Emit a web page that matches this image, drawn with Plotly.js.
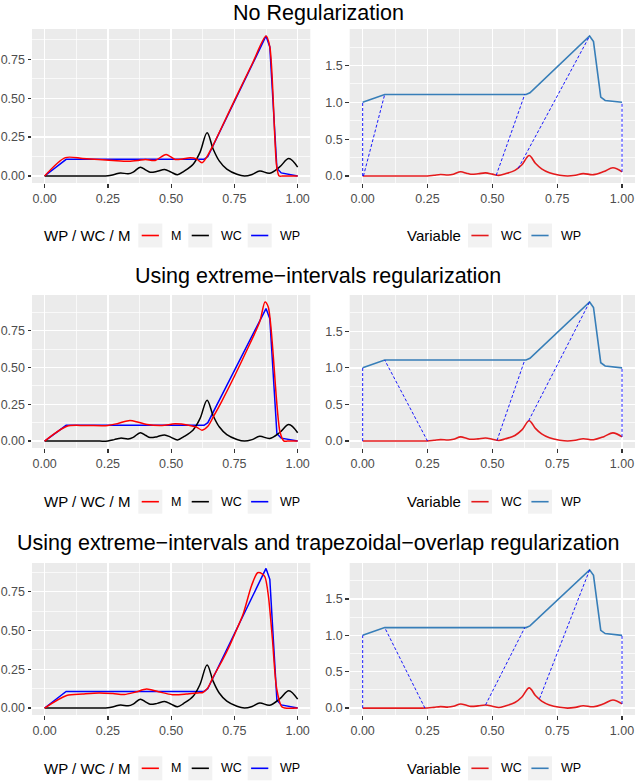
<!DOCTYPE html>
<html>
<head>
<meta charset="utf-8">
<script src="https://cdn.plot.ly/plotly-3.0.1.min.js"></script>
<style>
  html, body { margin: 0; padding: 0; background: #ffffff; }
  #chart { width: 636px; height: 782px; }
</style>
</head>
<body>
<div id="chart"></div>
<script>
// ---- values ----

// WC curve (same in every panel)
var wcX = [0, 0.1, 0.2, 0.25, 0.275, 0.30, 0.33, 0.35, 0.378, 0.40, 0.417, 0.445, 0.474, 0.50, 0.525,
           0.55, 0.587, 0.614, 0.642, 0.666, 0.69, 0.72, 0.76, 0.79, 0.82, 0.85, 0.89, 0.93, 0.965, 1.0];
var wcY = [0, 0, 0, 0.001, 0.01, 0.02, 0.014, 0.025, 0.057, 0.038, 0.024, 0.03, 0.042, 0.025, 0.008,
           0.03, 0.076, 0.152, 0.278, 0.173, 0.097, 0.044, 0.011, 0.0, 0.01, 0.032, 0.018, 0.06, 0.112, 0.057];

// WP curve, left panels and right panels
var wpX = [0, 0.085, 0.63, 0.645, 0.875, 0.89, 0.918, 0.935, 1.0];
var wpY = [0, 0.107, 0.107, 0.125, 0.9, 0.83, 0.05, 0.02, 0];
var wpRightY = [1.0, 1.107, 1.107, 1.13, 1.9, 1.825, 1.07, 1.025, 1.0];

// M curve, one per regularization
var m1X = [0, 0.082, 0.15, 0.213, 0.27, 0.332, 0.37, 0.398, 0.437, 0.48, 0.516, 0.545, 0.575, 0.6, 0.622,
           0.64, 0.661, 0.75, 0.82, 0.875, 0.89, 0.917, 0.927, 0.94, 1.0];
var m1Y = [0, 0.118, 0.113, 0.106, 0.1, 0.095, 0.1, 0.106, 0.1, 0.139, 0.106, 0.11, 0.117, 0.11, 0.085,
           0.12, 0.182, 0.485, 0.72, 0.9, 0.83, 0.065, 0, 0, 0];
var m2X = [0, 0.088, 0.16, 0.25, 0.29, 0.337, 0.37, 0.404, 0.464, 0.516, 0.569, 0.6, 0.622, 0.645, 0.668,
           0.7, 0.75, 0.8, 0.85, 0.871, 0.884, 0.93, 0.946, 0.96, 1.0];
var m2Y = [0, 0.101, 0.106, 0.106, 0.12, 0.14, 0.128, 0.113, 0.106, 0.117, 0.108, 0.095, 0.074, 0.1, 0.169,
           0.27, 0.44, 0.62, 0.81, 0.945, 0.91, 0.063, 0, 0, 0];
var m3X = [0, 0.087, 0.15, 0.215, 0.27, 0.315, 0.36, 0.403, 0.45, 0.505, 0.56, 0.612, 0.625, 0.645, 0.666,
           0.7, 0.732, 0.76, 0.785, 0.818, 0.842, 0.86, 0.871, 0.884, 0.9, 0.917, 0.937, 0.95, 1.0];
var m3Y = [0, 0.081, 0.09, 0.097, 0.093, 0.087, 0.103, 0.122, 0.105, 0.086, 0.09, 0.099, 0.1, 0.13, 0.2,
           0.3, 0.405, 0.51, 0.608, 0.79, 0.872, 0.865, 0.845, 0.727, 0.45, 0.126, 0.008, 0, 0];

// matching lines (right panels): from a point on WC to a point on WP
var seg1FromX = [0, 0.003, 0.515, 0.6, 1.0];
var seg1FromY = [0, 0, 0.01, 0.105, 0.057];
var seg2FromX = [0, 0.25, 0.518, 0.64, 1.0];
var seg2FromY = [0, 0, 0.008, 0.278, 0.057];
var seg3FromX = [0, 0.24, 0.474, 0.682, 1.0];
var seg3FromY = [0, 0, 0.045, 0.13, 0.057];
var segToX = [0, 0.085, 0.625, 0.875, 1.0];
var segToY = [1.0, 1.107, 1.107, 1.9, 1.0];

var titles = ['No Regularization',
              'Using extreme\u2212intervals regularization',
              'Using extreme\u2212intervals and trapezoidal\u2212overlap regularization'];
var leftLabels = ['M', 'WC', 'WP'];
var leftColors = ['#FF0000', '#000000', '#0000FF'];
var rightLabels = ['WC', 'WP'];
var rightColors = ['#E41A1C', '#377EB8'];

// ---- layout helpers ----
var W = 636, H = 782;
var FONT = '"Liberation Sans", Arial, Helvetica, sans-serif';
function px(v) { return v / W; }
function py(v) { return 1 - v / H; }

var colBox = [[32, 310.3], [349.7, 635]];
var rowBox = [[29, 183], [295, 448], [563, 715]];
var leftYRange = [[-0.045, 0.945], [-0.047, 0.992], [-0.045, 0.935]];
var rightYRange = [-0.095, 1.995];
var titleY = [12.5, 275.5, 543];
var legendY = [235.5, 501.7, 768.3];
var leftKeyX = [138.3, 188.3, 247.7];
var rightKeyX = [468, 528];

var mX = [m1X, m2X, m3X], mY = [m1Y, m2Y, m3Y];
var segFromX = [seg1FromX, seg2FromX, seg3FromX];
var segFromY = [seg1FromY, seg2FromY, seg3FromY];

function axis(domain, range, dtick, minorDtick, fmt) {
  return {
    domain: domain, range: range, fixedrange: true,
    tick0: 0, dtick: dtick, tickformat: fmt,
    showgrid: true, gridcolor: '#FFFFFF', gridwidth: 1.4,
    zeroline: false, showline: false,
    ticks: 'outside', ticklen: 3.5, tickwidth: 1.3, tickcolor: '#333333',
    tickfont: {family: FONT, size: 12.5, color: '#4D4D4D'},
    minor: {tick0: 0, dtick: minorDtick, showgrid: true, gridcolor: '#FFFFFF', gridwidth: 0.7, ticks: ''}
  };
}

var traces = [];
var layout = {
  width: W, height: H, autosize: false,
  margin: {l: 0, r: 0, t: 0, b: 0},
  paper_bgcolor: '#FFFFFF', plot_bgcolor: '#EBEBEB',
  showlegend: false,
  font: {family: FONT},
  shapes: [], annotations: []
};

for (var r = 0; r < 3; r++) {
  var pl = 2 * r + 1, pr = 2 * r + 2;
  var yDom = [py(rowBox[r][1]), py(rowBox[r][0])];
  layout['xaxis' + pl] = axis([px(colBox[0][0]), px(colBox[0][1])], [-0.05, 1.05], 0.25, 0.125, '.2f');
  layout['yaxis' + pl] = axis(yDom, leftYRange[r], 0.25, 0.125, '.2f');
  layout['xaxis' + pr] = axis([px(colBox[1][0]), px(colBox[1][1])], [-0.05, 1.05], 0.25, 0.125, '.2f');
  layout['yaxis' + pr] = axis(yDom, rightYRange, 0.5, 0.25, '.1f');
  layout['xaxis' + pl].anchor = 'y' + pl;
  layout['yaxis' + pl].anchor = 'x' + pl;
  layout['xaxis' + pr].anchor = 'y' + pr;
  layout['yaxis' + pr].anchor = 'x' + pr;

  var xl = 'x' + pl, yl = 'y' + pl, xr = 'x' + pr, yr = 'y' + pr;

  // left panel: WP, WC, M
  traces.push({x: wpX, y: wpY, xaxis: xl, yaxis: yl, mode: 'lines', name: 'WP',
               line: {color: leftColors[2], width: 1.5}});
  traces.push({x: wcX, y: wcY, xaxis: xl, yaxis: yl, mode: 'lines', name: 'WC',
               line: {color: leftColors[1], width: 1.5, shape: 'spline', smoothing: 1}});
  traces.push({x: mX[r], y: mY[r], xaxis: xl, yaxis: yl, mode: 'lines', name: 'M',
               line: {color: leftColors[0], width: 1.5, shape: 'spline', smoothing: 0.8}});

  // right panel: WC, WP and matching lines
  traces.push({x: wcX, y: wcY, xaxis: xr, yaxis: yr, mode: 'lines', name: 'WC',
               line: {color: rightColors[0], width: 1.6, shape: 'spline', smoothing: 1}});
  traces.push({x: wpX, y: wpRightY, xaxis: xr, yaxis: yr, mode: 'lines', name: 'WP',
               line: {color: rightColors[1], width: 1.6}});
  var sx = [], sy = [];
  for (var k = 0; k < segToX.length; k++) {
    sx.push(segFromX[r][k], segToX[k], null);
    sy.push(segFromY[r][k], segToY[k], null);
  }
  traces.push({x: sx, y: sy, xaxis: xr, yaxis: yr, mode: 'lines', name: 'match',
               line: {color: '#0000FF', width: 0.9, dash: '3px,2px'}, connectgaps: false});

  // title
  layout.annotations.push({text: titles[r], xref: 'paper', yref: 'paper', x: 0.5, y: py(titleY[r]),
    xanchor: 'center', yanchor: 'middle', showarrow: false, borderpad: 0,
    font: {family: FONT, size: 21.5, color: '#000000'}});

  // legends
  var ly = legendY[r];
  layout.annotations.push({text: 'WP / WC / M', xref: 'paper', yref: 'paper', x: px(42), y: py(ly),
    xanchor: 'left', yanchor: 'middle', showarrow: false, font: {family: FONT, size: 15, color: '#000000'}});
  layout.annotations.push({text: 'Variable', xref: 'paper', yref: 'paper', x: px(405.3), y: py(ly),
    xanchor: 'left', yanchor: 'middle', showarrow: false, font: {family: FONT, size: 15, color: '#000000'}});
  var keys = [[leftKeyX, leftLabels, leftColors], [rightKeyX, rightLabels, rightColors]];
  keys.forEach(function (kk) {
    for (var i = 0; i < kk[0].length; i++) {
      var bx = kk[0][i];
      layout.shapes.push({type: 'rect', xref: 'paper', yref: 'paper', layer: 'below',
        x0: px(bx), x1: px(bx + 24), y0: py(ly + 12), y1: py(ly - 12),
        fillcolor: '#F2F2F2', line: {width: 0}});
      layout.shapes.push({type: 'line', xref: 'paper', yref: 'paper',
        x0: px(bx + 3.4), x1: px(bx + 20.6), y0: py(ly), y1: py(ly),
        line: {color: kk[2][i], width: 1.6}});
      layout.annotations.push({text: kk[1][i], xref: 'paper', yref: 'paper', x: px(bx + 30.5), y: py(ly),
        xanchor: 'left', yanchor: 'middle', showarrow: false,
        font: {family: FONT, size: 12.5, color: '#000000'}});
    }
  });
}

Plotly.newPlot('chart', traces, layout, {displayModeBar: false, staticPlot: true});
</script>
</body>
</html>
